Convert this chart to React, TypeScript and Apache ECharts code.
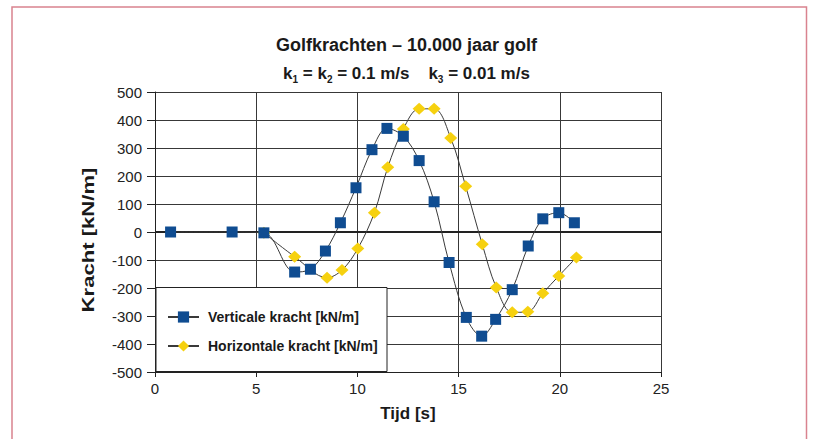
import React, { useEffect, useRef } from "react";
import * as echarts from "echarts";

const FONT = "'Liberation Sans', Arial, Helvetica, sans-serif";

const titleText = "Golfkrachten – 10.000 jaar golf";
const xAxisName = "Tijd [s]";
const yAxisName = "Kracht [kN/m]";
const seriesNames = ["Verticale kracht [kN/m]", "Horizontale kracht [kN/m]"];

const timeVert = [0.77, 3.81, 5.38, 6.9, 7.68, 8.42, 9.16, 9.93, 10.72, 11.46, 12.27, 13.05, 13.79, 14.53, 15.38, 16.14, 16.83, 17.65, 18.44, 19.16, 19.95, 20.72];
const vertKracht = [0, 0, -3, -143, -133, -68, 33, 158, 294, 370, 342, 255, 108, -109, -305, -372, -312, -206, -50, 47, 69, 33];

const timeHor = [5.38, 6.9, 8.5, 9.24, 10.02, 10.84, 11.5, 12.27, 13.05, 13.79, 14.61, 15.35, 16.17, 16.86, 17.65, 18.42, 19.16, 19.95, 20.82];
const horKracht = [-3, -88, -163, -136, -59, 69, 231, 368, 440, 440, 336, 163, -44, -198, -287, -285, -219, -157, -91];

const xMin = 0, xMax = 25, xStep = 5;
const yMin = -500, yMax = 500, yStep = 100;

const BLUE = "#0f4c91";
const YELLOW = "#f6d10f";
const LINE = "#3a3a3a";
const GRID = "#383838";
const FRAME = "#d9838f";

export default function App() {
  const ref = useRef<HTMLDivElement>(null);
  useEffect(() => {
    if (!ref.current) return;
    const chart = echarts.init(ref.current, null, { renderer: "svg" });
    const option: any = {
      animation: false,
      backgroundColor: "#ffffff",
      title: [
        {
          text: titleText,
          left: "center",
          top: 31,
          textStyle: { fontFamily: FONT, fontSize: 18, fontWeight: "bold", color: "#1a1a1a" },
        },
        {
          text: "{a|k}{s|1}{a| = k}{s|2}{a| = 0.1 m/s    k}{s|3}{a| = 0.01 m/s}",
          left: "center",
          top: 57,
          textStyle: {
            rich: {
              a: { fontFamily: FONT, fontSize: 17, fontWeight: "bold", color: "#1a1a1a", lineHeight: 22, verticalAlign: "middle" },
              s: { fontFamily: FONT, fontSize: 10, fontWeight: "bold", color: "#1a1a1a", lineHeight: 11, verticalAlign: "bottom" },
            },
          },
        },
      ],
      grid: { left: 155, right: 152, top: 92, bottom: 67, containLabel: false },
      xAxis: {
        type: "value",
        min: xMin,
        max: xMax,
        interval: xStep,
        axisLine: { show: true, onZero: false, lineStyle: { color: "#222", width: 1 } },
        axisTick: { show: true, inside: false, length: 5, lineStyle: { color: "#222" } },
        axisLabel: { fontFamily: FONT, fontSize: 15, color: "#222", margin: 9 },
        splitLine: { show: true, lineStyle: { color: GRID, width: 1 } },
      },
      yAxis: {
        type: "value",
        min: yMin,
        max: yMax,
        interval: yStep,
        axisLine: { show: true, onZero: false, lineStyle: { color: "#222", width: 1 } },
        axisTick: { show: true, inside: false, length: 8, lineStyle: { color: "#222" } },
        axisLabel: { fontFamily: FONT, fontSize: 15, color: "#222", margin: 13 },
        splitLine: { show: true, lineStyle: { color: GRID, width: 1 } },
      },
      legend: {
        orient: "vertical",
        left: 162,
        top: 305,
        itemWidth: 31,
        itemHeight: 14,
        itemGap: 15,
        z: 10,
        data: seriesNames,
        textStyle: { fontFamily: FONT, fontSize: 14, fontWeight: "bold", color: "#1a1a1a", padding: [0, 0, 0, 4] },
      },
      graphic: [
        {
          type: "rect",
          z: 5,
          shape: { x: 156, y: 287.5, width: 231, height: 84 },
          style: { fill: "#ffffff", stroke: "#222", lineWidth: 1 },
        },
        {
          type: "text",
          x: 408,
          y: 413,
          z: 6,
          style: { text: xAxisName, fontFamily: FONT, fontSize: 17, fontWeight: "bold", fill: "#1a1a1a", align: "center", verticalAlign: "middle" },
        },
        {
          type: "text",
          x: 88,
          y: 240,
          rotation: Math.PI / 2,
          scaleX: 1.3,
          z: 6,
          style: { text: yAxisName, fontFamily: FONT, fontSize: 17, fontWeight: "bold", fill: "#1a1a1a", align: "center", verticalAlign: "middle" },
        },
        {
          type: "polyline",
          z: 20,
          shape: { points: [[12, 439], [12, 7], [806.5, 7], [806.5, 439]] },
          style: { stroke: FRAME, lineWidth: 1.5, fill: "none" },
        },
      ],
      series: [
        {
          name: seriesNames[1],
          type: "line",
          data: timeHor.map((t, i) => [t, horKracht[i]]),
          smooth: 0.35,
          symbol: "diamond",
          symbolSize: [13, 12],
          itemStyle: { color: YELLOW, borderWidth: 0 },
          lineStyle: { color: LINE, width: 1 },
          z: 3,
        },
        {
          name: seriesNames[0],
          type: "line",
          data: timeVert.map((t, i) => [t, vertKracht[i]]),
          smooth: 0.35,
          symbol: "rect",
          symbolSize: 11,
          itemStyle: { color: BLUE, borderWidth: 0 },
          lineStyle: { color: LINE, width: 1 },
          z: 4,
          markLine: {
            silent: true,
            symbol: "none",
            label: { show: false },
            lineStyle: { color: "#222", width: 2, type: "solid" },
            data: [{ yAxis: 0 }],
            z: 2,
          },
        },
      ],
    };
    chart.setOption(option);
    return () => chart.dispose();
  }, []);
  return (
    <div
      ref={ref}
      style={{ position: "fixed", left: 0, top: 0, width: 813, height: 439, background: "#fff" }}
    />
  );
}
